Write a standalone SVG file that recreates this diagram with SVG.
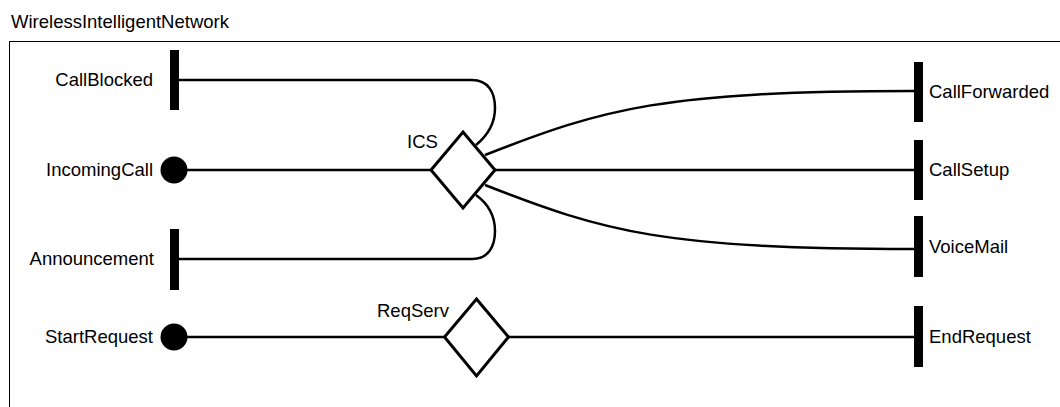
<svg xmlns="http://www.w3.org/2000/svg" width="1060" height="407" viewBox="0 0 1060 407">
<style>
  text { font-family: "Liberation Sans", Arial, sans-serif; font-size: 18.5px; fill: #000; }
  .frame { fill: none; stroke: #000; stroke-width: 1; }
  .bar { fill: #000; }
  .start { fill: #000; }
  .decision { fill: #fff; stroke: #000; stroke-width: 3; stroke-linejoin: miter; }
  .conn { fill: none; stroke: #000; stroke-width: 2.5; }
  .lbl-l { text-anchor: end; }
</style>
<rect width="1060" height="407" fill="#fff"/>
<g id="frame">
  <text x="11" y="28">WirelessIntelligentNetwork</text>
  <rect class="frame" x="9.5" y="41.5" width="1100" height="420"/>
</g>
<g id="connectors">
  <path class="conn" d="M179,80 H472 C488,80 495,92 495,108 C495,124 487,136 476,145"/>
  <path class="conn" d="M187,170 H432"/>
  <path class="conn" d="M179,259 H472 C488,259 495,247 495,231 C495,215 487,203 476,195"/>
  <path class="conn" d="M485,155 C605,108 664,91 914,91"/>
  <path class="conn" d="M495,170 H914"/>
  <path class="conn" d="M485,185 C605,232 664,249 914,249"/>
  <path class="conn" d="M187,337 H445"/>
  <path class="conn" d="M508,337 H914"/>
</g>
<g id="CallBlocked">
  <rect class="bar" x="170" y="50" width="9" height="60"/>
  <text class="lbl-l" x="153" y="86">CallBlocked</text>
</g>
<g id="IncomingCall">
  <circle class="start" cx="174" cy="170" r="13.5"/>
  <text class="lbl-l" x="153" y="176">IncomingCall</text>
</g>
<g id="Announcement">
  <rect class="bar" x="170" y="229" width="9" height="61"/>
  <text class="lbl-l" x="154" y="265">Announcement</text>
</g>
<g id="StartRequest">
  <circle class="start" cx="174" cy="337" r="13.5"/>
  <text class="lbl-l" x="153" y="343">StartRequest</text>
</g>
<g id="ICS">
  <polygon class="decision" points="463,132 495,170 463,208 431,170"/>
  <text x="407" y="148">ICS</text>
</g>
<g id="ReqServ">
  <polygon class="decision" points="476.5,299 508.5,337 476.5,376 444.5,337"/>
  <text x="377" y="317">ReqServ</text>
</g>
<g id="CallForwarded">
  <rect class="bar" x="914" y="62" width="9" height="60"/>
  <text x="929" y="98">CallForwarded</text>
</g>
<g id="CallSetup">
  <rect class="bar" x="914" y="140" width="9" height="60"/>
  <text x="929" y="176">CallSetup</text>
</g>
<g id="VoiceMail">
  <rect class="bar" x="914" y="216" width="9" height="61"/>
  <text x="929" y="253">VoiceMail</text>
</g>
<g id="EndRequest">
  <rect class="bar" x="914" y="306" width="9" height="61"/>
  <text x="929" y="343">EndRequest</text>
</g>
</svg>
